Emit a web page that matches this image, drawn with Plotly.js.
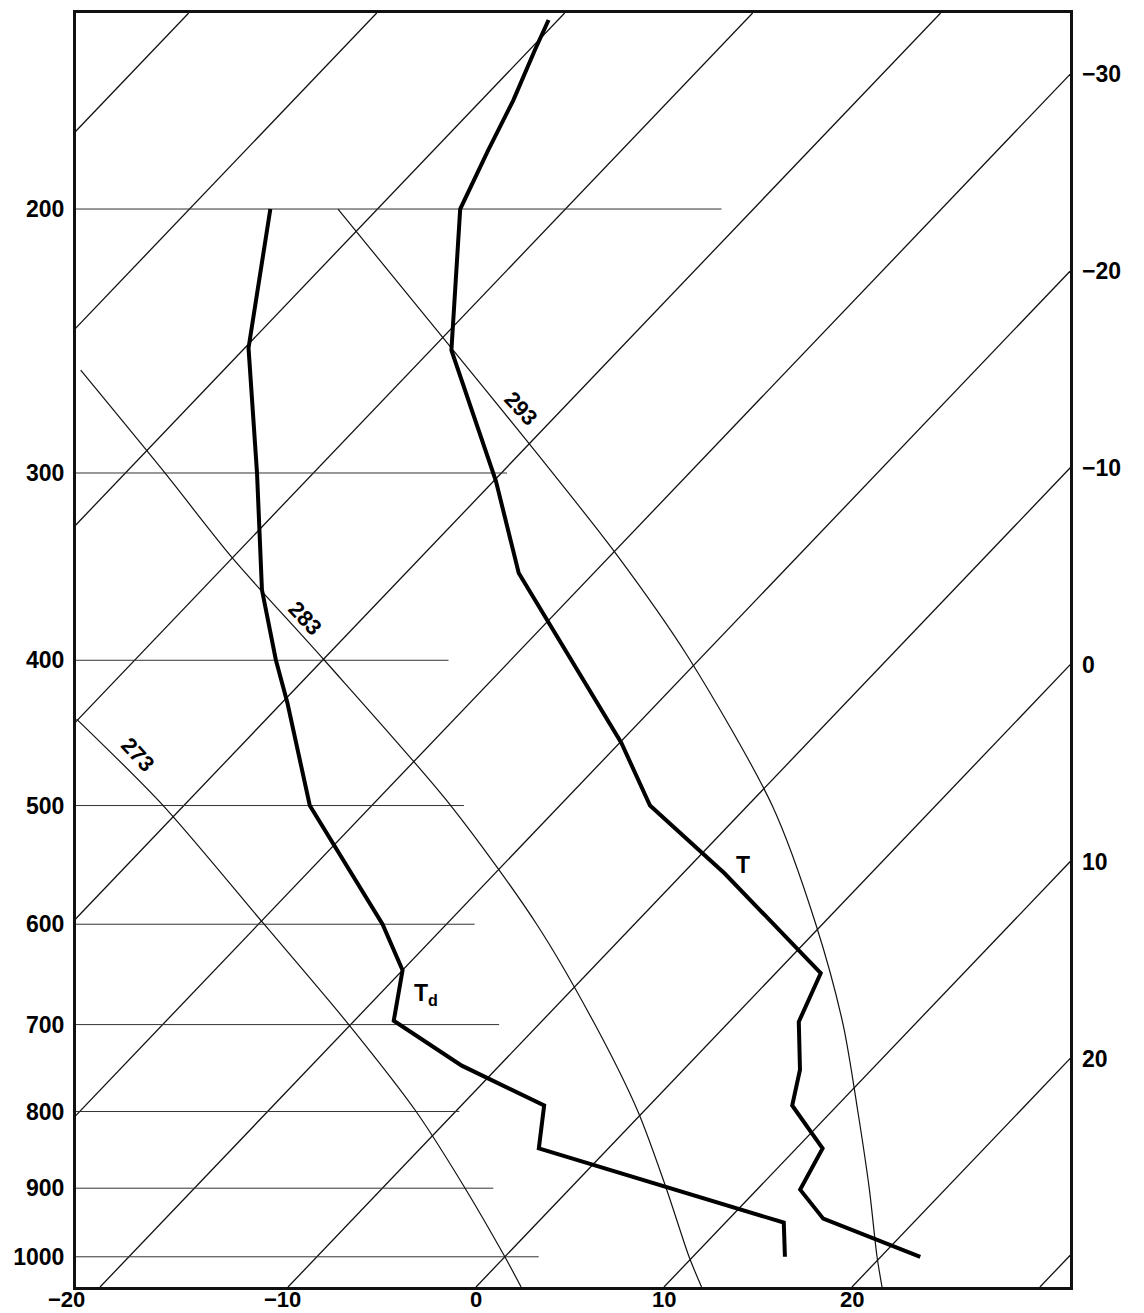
<!DOCTYPE html>
<html>
<head>
<meta charset="utf-8">
<script src="https://cdn.plot.ly/plotly-3.0.1.min.js"></script>
<style>
html,body{margin:0;padding:0;background:#ffffff;}
#chart{width:1144px;height:1313px;}
</style>
</head>
<body>
<div id="chart"></div>
<script>
// ---------- Data (pressure in hPa, temperature in °C) ----------
const tempPressure = [149.6, 156.7, 169.2, 182.7, 200, 248.4, 303.6, 349.8, 454.2, 500, 554.8, 646.9, 697.0, 750.3, 792.6, 846.7, 902.0, 943.1, 1000];
const tempValues   = [-60.5, -59.7, -58.3, -57.1, -55.6, -48.9, -39.9, -34.0, -19.9, -15.2, -7.8, 2.4, 3.7, 6.2, 7.6, 11.4, 12.3, 15.0, 22.1];

const dewPressure  = [200, 247.6, 300, 359.0, 399.8, 427.1, 500, 600, 643.9, 695.9, 745.6, 792.5, 846.6, 897.8, 948.8, 1000];
const dewValues    = [-65.7, -59.8, -53.0, -46.8, -42.5, -39.7, -33.3, -23.4, -20.0, -17.9, -12.0, -5.6, -3.7, 5.0, 13.1, 14.9];

// saturated adiabats, labelled by wet-bulb potential temperature (K)
const adiabatNames = ['273', '283', '293'];
const adiabat273Pressure = [437.8, 500, 600, 700, 800, 900, 1000, 1047.5];
const adiabat273Temp     = [-50.1, -41.1, -29.7, -20.1, -12.1, -5.6, 0.0, 2.4];
const adiabat283Pressure = [256.2, 300, 341.8, 400, 500, 600, 700, 800, 900, 1000, 1047.5];
const adiabat283Temp     = [-67.6, -57.9, -50.0, -39.9, -25.8, -15.2, -7.0, -0.3, 5.1, 9.8, 12.0];
const adiabat293Pressure = [200, 240.1, 287.3, 340.2, 397.4, 500, 600, 700, 800, 900, 1000, 1047.5];
const adiabat293Temp     = [-62.1, -50.9, -39.9, -29.7, -20.8, -8.7, -0.35, 6.2, 11.4, 15.9, 19.8, 21.6];
const adiabatLabelPressure = [462.6, 374.9, 271.5];

const isothermValues   = [-80, -70, -60, -50, -40, -30, -20, -10, 0, 10, 20, 30];
const bottomTickValues = [-20, -10, 0, 10, 20];
const rightTickValues  = [-30, -20, -10, 0, 10, 20];
const pressureLevels   = [200, 300, 400, 500, 600, 700, 800, 900, 1000];
// temperature at which each printed isobar stops being visible in the picture
const isobarVisibleToTemp = [-41.7, -39.7, -33.3, -25.1, -18.5, -12.1, -9.8, -4.1, 1.8];

const curveLabelPressure = {T: 548, Td: 668.7};

// ---------- Diagram geometry ----------
const K = 33.07;            // skew of the isotherms
const P_BOTTOM = 1047.5, P_TOP = 148;
const X_MIN = -21.28, X_MAX = 31.6;
function skewX(T, p) { return T + K * Math.log(P_BOTTOM / p); }
function skewSeries(ps, ts) { return ts.map((t, i) => skewX(t, ps[i])); }
function xAtPressure(ps, ts, p) {
  for (let i = 0; i < ps.length - 1; i++) {
    const a = ps[i], b = ps[i + 1];
    if ((p >= a && p <= b) || (p <= a && p >= b)) {
      const f = (Math.log(p) - Math.log(a)) / (Math.log(b) - Math.log(a));
      const xa = skewX(ts[i], a), xb = skewX(ts[i + 1], b);
      return xa + f * (xb - xa);
    }
  }
  return skewX(ts[0], ps[0]);
}

const FONT = '"Liberation Sans", Arial, Helvetica, sans-serif';
const traces = [];

// isotherms
{
  const xs = [], ys = [];
  isothermValues.forEach(T => {
    xs.push(skewX(T, P_TOP), skewX(T, P_BOTTOM), null);
    ys.push(P_TOP, P_BOTTOM, null);
  });
  traces.push({x: xs, y: ys, mode: 'lines', line: {color: '#111', width: 1.3}, hoverinfo: 'skip'});
}
// isobars
{
  const xs = [], ys = [];
  pressureLevels.forEach((p, i) => {
    xs.push(X_MIN - 1, skewX(isobarVisibleToTemp[i], p), null);
    ys.push(p, p, null);
  });
  traces.push({x: xs, y: ys, mode: 'lines', line: {color: '#333', width: 1}, hoverinfo: 'skip'});
}
// saturated adiabats
const adiabats = [
  [adiabat273Pressure, adiabat273Temp],
  [adiabat283Pressure, adiabat283Temp],
  [adiabat293Pressure, adiabat293Temp]
];
adiabats.forEach(([ps, ts]) => {
  traces.push({x: skewSeries(ps, ts), y: ps, mode: 'lines',
    line: {color: '#111', width: 1.2, shape: 'spline', smoothing: 0.8}, hoverinfo: 'skip'});
});
// sounding
traces.push({x: skewSeries(tempPressure, tempValues), y: tempPressure, mode: 'lines',
  line: {color: '#000', width: 4}, name: 'T'});
traces.push({x: skewSeries(dewPressure, dewValues), y: dewPressure, mode: 'lines',
  line: {color: '#000', width: 4}, name: 'Td'});

// ---------- Annotations ----------
const annotations = [];
const labelFont = {family: FONT, size: 23, color: '#000', weight: 'bold'};
const bottomFont = {family: FONT, size: 22, color: '#000', weight: 'bold'};
bottomTickValues.forEach(T => {
  const nearCorner = (T - X_MIN) < 3;
  annotations.push({
    x: T, xref: 'x', y: 0, yref: 'paper', yanchor: 'top',
    xanchor: nearCorner ? 'right' : 'center',
    xshift: nearCorner ? -14 : (T < 0 ? -6 : 0), yshift: 1, borderpad: 0,
    text: (T < 0 ? '\u2212' : '') + Math.abs(T), showarrow: false, font: bottomFont
  });
});
rightTickValues.forEach(T => {
  const pEdge = P_BOTTOM * Math.exp(-(X_MAX - T) / K);
  annotations.push({
    x: 1, xref: 'paper', xanchor: 'left', xshift: 10,
    y: Math.log10(pEdge), yref: 'y', yanchor: 'middle',
    text: (T < 0 ? '\u2212' : '') + Math.abs(T), showarrow: false, font: labelFont
  });
});
const adiabatShift = [25, 19, 21];
adiabats.forEach(([ps, ts], i) => {
  const p = adiabatLabelPressure[i];
  annotations.push({
    x: xAtPressure(ps, ts, p), y: Math.log10(p), xref: 'x', yref: 'y',
    xshift: adiabatShift[i], textangle: 47,
    text: adiabatNames[i], showarrow: false,
    font: {family: FONT, size: 22, color: '#000', weight: 'bold'}
  });
});
annotations.push({
  x: xAtPressure(tempPressure, tempValues, curveLabelPressure.T), y: Math.log10(curveLabelPressure.T),
  xanchor: 'left', xshift: 18, text: 'T', showarrow: false,
  font: {family: FONT, size: 23, color: '#000', weight: 'bold'}
});
annotations.push({
  x: xAtPressure(dewPressure, dewValues, curveLabelPressure.Td), y: Math.log10(curveLabelPressure.Td),
  xanchor: 'left', xshift: 14, text: 'T<sub>d</sub>', showarrow: false,
  font: {family: FONT, size: 23, color: '#000', weight: 'bold'}
});

const layout = {
  width: 1144, height: 1313,
  margin: {l: 76, r: 74, t: 13, b: 26, pad: 0},
  paper_bgcolor: '#fff', plot_bgcolor: '#fff',
  showlegend: false,
  xaxis: {range: [X_MIN, X_MAX], showgrid: false, zeroline: false, showticklabels: false,
    ticks: '', showline: true, mirror: true, linewidth: 3, linecolor: '#111', fixedrange: true},
  yaxis: {type: 'log', range: [Math.log10(P_BOTTOM), Math.log10(P_TOP)],
    tickvals: pressureLevels, ticktext: pressureLevels.map(String),
    showgrid: false, zeroline: false, ticks: '', ticklabelstandoff: 4,
    showline: true, mirror: true, linewidth: 3, linecolor: '#111',
    tickfont: labelFont, fixedrange: true},
  annotations: annotations
};

Plotly.newPlot('chart', traces, layout, {displayModeBar: false, staticPlot: true});
</script>
</body>
</html>
